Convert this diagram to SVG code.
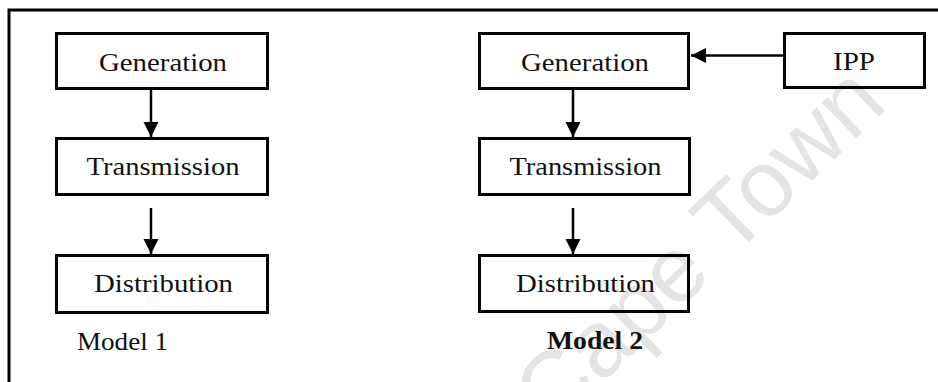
<svg xmlns="http://www.w3.org/2000/svg" width="938" height="382" viewBox="0 0 938 382">
<style>
.box{fill:none;stroke:#000;stroke-width:3}
.lbl{font-family:"Liberation Serif",serif;font-size:26px;fill:#111;text-anchor:middle}
.cap{font-family:"Liberation Serif",serif;font-size:26px;fill:#111}
.con{stroke:#000;stroke-width:2.5;fill:none;marker-end:url(#ah)}
.wm{font-family:"Liberation Sans",sans-serif;font-size:94px;fill:#e4e4e4}
</style>
<defs>
<marker id="ah" markerUnits="userSpaceOnUse" markerWidth="15" markerHeight="16" refX="15" refY="8" orient="auto">
<path d="M0,0.5 L15,8 L0,15.5 z" fill="#000"/>
</marker>
</defs>
<rect width="938" height="382" fill="#fff"/>
<text class="wm" transform="translate(552,432) rotate(-44)">Cape Town</text>
<path d="M9,382 V10 H938" fill="none" stroke="#000" stroke-width="3"/>
<g id="gen1"><rect class="box" x="56.5" y="33.5" width="211" height="55"/><text class="lbl" x="163" y="71" textLength="128" lengthAdjust="spacingAndGlyphs">Generation</text></g>
<g id="trans1"><rect class="box" x="56.5" y="138.5" width="211" height="56"/><text class="lbl" x="163" y="175" textLength="153" lengthAdjust="spacingAndGlyphs">Transmission</text></g>
<g id="dist1"><rect class="box" x="56.5" y="255.5" width="211" height="57"/><text class="lbl" x="163.5" y="292" textLength="139" lengthAdjust="spacingAndGlyphs">Distribution</text></g>
<g id="model1"><text class="cap" x="77" y="350" textLength="91" lengthAdjust="spacingAndGlyphs">Model 1</text></g>
<g id="gen2"><rect class="box" x="479.5" y="33.5" width="209" height="55"/><text class="lbl" x="585" y="71" textLength="128" lengthAdjust="spacingAndGlyphs">Generation</text></g>
<g id="trans2"><rect class="box" x="479.5" y="138.5" width="210" height="56"/><text class="lbl" x="585.5" y="175" textLength="152" lengthAdjust="spacingAndGlyphs">Transmission</text></g>
<g id="dist2"><rect class="box" x="479.5" y="255.5" width="209" height="56"/><text class="lbl" x="585.5" y="292" textLength="139" lengthAdjust="spacingAndGlyphs">Distribution</text></g>
<g id="ipp"><rect class="box" x="784.5" y="33.5" width="140" height="54"/><text class="lbl" x="854" y="70" textLength="42" lengthAdjust="spacingAndGlyphs">IPP</text></g>
<g id="model2"><text class="cap" x="547" y="349" font-weight="bold" textLength="96" lengthAdjust="spacingAndGlyphs">Model 2</text></g>
<g id="connectors">
<line class="con" x1="151" y1="90" x2="151" y2="137"/>
<line class="con" x1="151" y1="208" x2="151" y2="254"/>
<line class="con" x1="573" y1="90" x2="573" y2="137"/>
<line class="con" x1="573" y1="208" x2="573" y2="254"/>
<line class="con" x1="783" y1="55.5" x2="691" y2="55.5"/>
</g>
</svg>
